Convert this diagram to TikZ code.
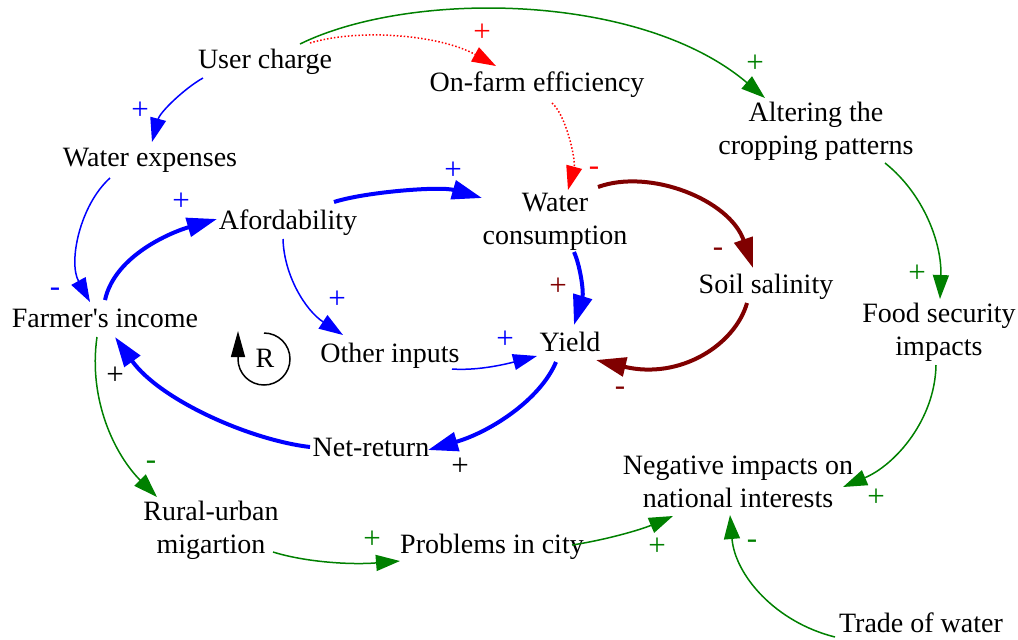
\documentclass[tikz,border=0pt]{standalone}
\usepackage{fontspec}
\setmainfont{Liberation Serif}[Ligatures=TeXOff]
\usetikzlibrary{arrows.meta}
\definecolor{cblue}{RGB}{0,0,255}
\definecolor{cgreen}{RGB}{0,128,0}
\definecolor{cdred}{RGB}{128,0,0}
\definecolor{cred}{RGB}{255,0,0}
\begin{document}
\begin{tikzpicture}[x=0.5pt,y=-0.5pt,
  lab/.style={font=\fontsize{14}{16.3}\selectfont, inner sep=0pt, align=center, text=black},
  sign/.style={font=\fontsize{15.5}{17}\selectfont, inner sep=0pt},
  thinarr/.style={line width=0.75pt, -{Triangle[length=12pt,width=8pt]}},
  thickarr/.style={line width=2pt, -{Triangle[length=15pt,width=9.5pt]}},
  dotarr/.style={line width=0.75pt, densely dotted, -{Triangle[length=12pt,width=8pt]}}
]
\useasboundingbox (0,0) rectangle (1018,639);

% variables
\node[lab, anchor=base] (uc)  at (265,68)  {User charge};
\node[lab, anchor=base] (ofe) at (537,91)  {On-farm efficiency};
\node[lab]              (alt) at (816,131.5) {Altering the\\cropping patterns};
\node[lab, anchor=base] (wex) at (150,166) {Water expenses};
\node[lab, anchor=base] (afd) at (288,229) {Afordability};
\node[lab]              (wc)  at (555,222) {Water\\consumption};
\node[lab, anchor=base] (ss)  at (766,293) {Soil salinity};
\node[lab, anchor=base] (fi)  at (105,327) {Farmer's income};
\node[lab]              (fs)  at (939,332.5) {Food security\\impacts};
\node[lab, anchor=base] (oi)  at (390,362) {Other inputs};
\node[lab, anchor=base] (ny)  at (570,351) {Yield};
\node[lab, anchor=base] (nr)  at (371,456) {Net-return};
\node[lab]              (ni)  at (738,482) {Negative impacts on\\national interests};
\node[lab]              (ru)  at (211,530.5) {Rural-urban\\migartion};
\node[lab, anchor=base] (ps)  at (492,553) {Problems in city};
\node[lab, anchor=base] (tw)  at (921,632) {Trade of water};
\node[lab, anchor=base] (r)   at (265,367) {R};

% loop symbol
\draw[line width=0.75pt, -{Triangle[length=13pt,width=7pt]}]
  ([shift={(-1,-34)}]r.base) arc[start angle=-90, end angle=180, radius=26] -- ++(0,-28);

% blue links
\draw[thinarr, cblue] ([shift={(-62,10)}]uc.base) .. controls (185,88) and (160,112) .. ([shift={(2,-24)}]wex.base);
\draw[thinarr, cblue] ([shift={(-40,12)}]wex.base) .. controls (80,205) and (68,262) .. ([shift={(-15,-25)}]fi.base);
\draw[thickarr, cblue] ([shift={(0,-27)}]fi.base) .. controls (115,255) and (172,232) .. ([shift={(-71,-10)}]afd.base);
\draw[thickarr, cblue] ([shift={(46,-27)}]afd.base) .. controls (365,192) and (440,186) .. ([shift={(-73,-24)}]wc.center);
\draw[thinarr, cblue] ([shift={(-5,10)}]afd.base) .. controls (284,275) and (305,310) .. ([shift={(-47,-27)}]oi.base);
\draw[thinarr, cblue] ([shift={(62,7)}]oi.base) .. controls (480,371) and (510,363) .. ([shift={(-33,5)}]ny.base);
\draw[thickarr, cblue] ([shift={(19,30)}]wc.center) .. controls (580,265) and (584,292) .. ([shift={(4,-26)}]ny.base);
\draw[thickarr, cblue] ([shift={(-14,11)}]ny.base) .. controls (540,400) and (490,432) .. ([shift={(57,-6)}]nr.base);
\draw[thickarr, cblue] ([shift={(-61,-9)}]nr.base) .. controls (250,440) and (160,400) .. ([shift={(10,10)}]fi.base);

% dark red links
\draw[thickarr, cdred] ([shift={(43,-35)}]wc.center) .. controls (650,168) and (730,200) .. ([shift={(-13,-25)}]ss.base);
\draw[thickarr, cdred] ([shift={(-19,10)}]ss.base) .. controls (735,345) and (680,380) .. ([shift={(26,9)}]ny.base);

% red dotted links
\draw[dotarr, cred] ([shift={(45,-25)}]uc.base) .. controls (360,28) and (440,35) .. ([shift={(-41,-25)}]ofe.base);
\draw[dotarr, cred] ([shift={(15,12)}]ofe.base) .. controls (566,115) and (576,160) .. ([shift={(13,-32)}]wc.center);

% green links
\draw[thinarr, cgreen] ([shift={(35,-24)}]uc.base) .. controls (410,-10) and (640,-8) .. ([shift={(-51,-33.5)}]alt.center);
\draw[thinarr, cgreen] ([shift={(69,31.5)}]alt.center) .. controls (925,195) and (942,245) .. ([shift={(1,-33.5)}]fs.center);
\draw[thinarr, cgreen] ([shift={(-3,32.5)}]fs.center) .. controls (935,420) and (895,465) .. ([shift={(105,5)}]ni.center);
\draw[thinarr, cgreen] ([shift={(-8,10)}]fi.base) .. controls (88,400) and (115,455) .. ([shift={(-54,-33.5)}]ru.center);
\draw[thinarr, cgreen] ([shift={(62,21.5)}]ru.center) .. controls (305,562) and (350,565) .. ([shift={(-92,8)}]ps.base);
\draw[thinarr, cgreen] ([shift={(80,-8)}]ps.base) .. controls (605,540) and (640,530) .. ([shift={(-65,34)}]ni.center);
\draw[thinarr, cgreen] ([shift={(-86,5)}]tw.base) .. controls (775,622) and (735,575) .. ([shift={(-8,33)}]ni.center);

% polarity signs
\node[sign, text=cblue]  (s1)  at (140,111) {+};
\node[sign, text=cblue]  (s2)  at (55,292)  {-};
\node[sign, text=cblue]  (s3)  at (181,202) {+};
\node[sign, text=cblue]  (s4)  at (453,171) {+};
\node[sign, text=cblue]  (s5)  at (337,300) {+};
\node[sign, text=cblue]  (s6)  at (505,340) {+};
\node[sign, text=cdred]  (s7)  at (558,287) {+};
\node[sign, text=black]  (s8)  at (460,467) {+};
\node[sign, text=black]  (s9)  at (115,376) {+};
\node[sign, text=cdred]  (s10) at (718,252) {-};
\node[sign, text=cdred]  (s11) at (620,391) {-};
\node[sign, text=cred]   (s12) at (482,33)  {+};
\node[sign, text=cred]   (s13) at (594,171) {-};
\node[sign, text=cgreen] (s14) at (755,64)  {+};
\node[sign, text=cgreen] (s15) at (917,274) {+};
\node[sign, text=cgreen] (s16) at (876,498) {+};
\node[sign, text=cgreen] (s17) at (151,465) {-};
\node[sign, text=cgreen] (s18) at (372,540) {+};
\node[sign, text=cgreen] (s19) at (657,547) {+};
\node[sign, text=cgreen] (s20) at (752,544) {-};
\end{tikzpicture}
\end{document}
